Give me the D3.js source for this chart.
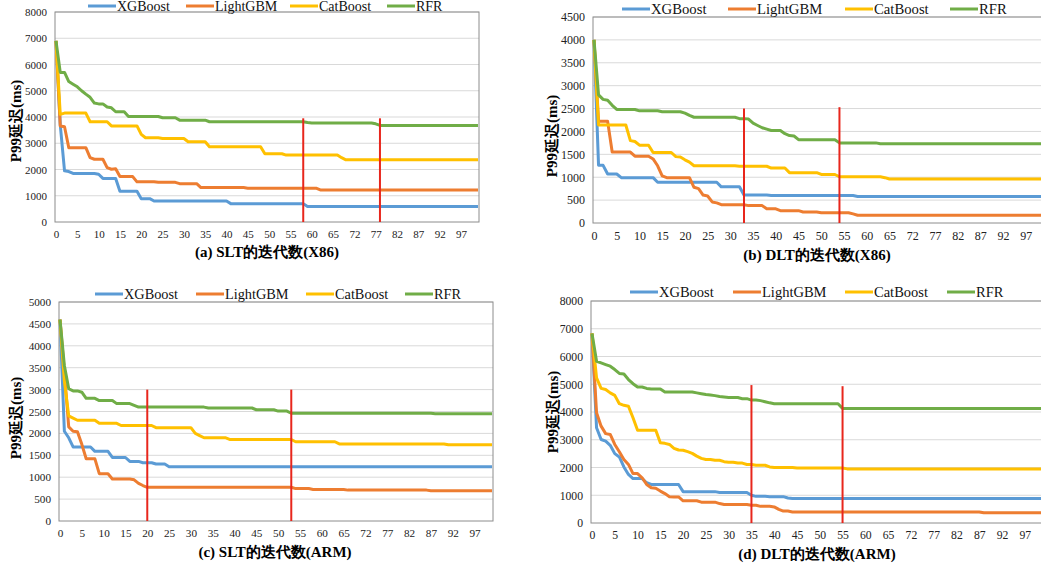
<!DOCTYPE html>
<html>
<head>
<meta charset="utf-8">
<script src="https://cdn.jsdelivr.net/npm/d3@7"></script>
<style>
  body { margin: 0; background: #fff; }
  svg text { font-family: "Liberation Serif", Tinos, "Times New Roman", "DejaVu Serif", serif; }
</style>
</head>
<body>
<svg id="chart" width="1041" height="566"></svg>
<script>
const seriesNames = ['XGBoost', 'LightGBM', 'CatBoost', 'RFR'];
const seriesColors = ['#5B9BD5', '#ED7D31', '#FFC000', '#70AD47'];

// iteration labels on the category axis (two iterations are missing after 69)
const iterations = d3.range(0, 70).concat(d3.range(72, 102));
const xTickIndex = [0, 5, 10, 15, 20, 25, 30, 35, 40, 45, 50, 55, 60, 65, 70, 75, 80, 85, 90, 95];

// (a) SLT, X86
const sltX86XGBoost = [
  6900,3700,1950,1920,1850,1850,1850,1850,1850,1850,
  1820,1660,1660,1660,1660,1170,1170,1170,1170,1170,
  890,890,890,800,800,800,800,800,800,800,
  800,800,800,800,800,800,800,800,800,800,
  800,700,700,700,700,700,700,700,700,700,
  700,700,700,700,700,700,700,700,700,590,
  590,590,590,590,590,590,590,590,590,590,
  590,590,590,590,590,590,590,590,590,590,
  590,590,590,590,590,590,590,590,590,590,
  590,590,590,590,590,590,590,590,590,590];
const sltX86LightGBM = [
  6900,3660,3630,2830,2830,2830,2830,2830,2450,2390,
  2390,2390,2070,2010,2030,1730,1730,1730,1730,1530,
  1530,1530,1530,1530,1510,1510,1510,1510,1510,1460,
  1460,1460,1460,1460,1310,1310,1310,1310,1310,1310,
  1310,1310,1310,1310,1310,1290,1290,1290,1290,1290,
  1290,1290,1290,1290,1290,1290,1290,1290,1290,1290,
  1290,1290,1220,1220,1220,1220,1220,1220,1220,1220,
  1220,1220,1220,1220,1220,1220,1220,1220,1220,1220,
  1220,1220,1220,1220,1220,1220,1220,1220,1220,1220,
  1220,1220,1220,1220,1220,1220,1220,1220,1220,1220];
const sltX86CatBoost = [
  6900,4100,4150,4150,4150,4150,4150,4150,3820,3820,
  3820,3820,3820,3660,3660,3660,3660,3660,3660,3660,
  3340,3210,3210,3210,3210,3180,3180,3180,3180,3180,
  3180,3060,3060,3060,3060,3060,2870,2870,2870,2870,
  2870,2870,2870,2870,2870,2870,2870,2870,2870,2600,
  2600,2600,2600,2600,2550,2550,2550,2550,2550,2550,
  2550,2550,2550,2550,2550,2550,2550,2450,2370,2370,
  2370,2370,2370,2370,2370,2370,2370,2370,2370,2370,
  2370,2370,2370,2370,2370,2370,2370,2370,2370,2370,
  2370,2370,2370,2370,2370,2370,2370,2370,2370,2370];
const sltX86RFR = [
  6900,5700,5700,5350,5250,5150,5000,4870,4750,4530,
  4500,4500,4380,4350,4200,4200,4200,4020,4020,4020,
  4020,4020,4020,4020,4020,3970,3970,3970,3970,3880,
  3880,3880,3880,3880,3880,3880,3820,3820,3820,3820,
  3820,3820,3820,3820,3820,3820,3820,3820,3820,3820,
  3820,3820,3820,3820,3820,3820,3820,3820,3820,3790,
  3770,3770,3770,3770,3770,3770,3770,3770,3770,3770,
  3770,3770,3770,3770,3770,3740,3680,3680,3680,3680,
  3680,3680,3680,3680,3680,3680,3680,3680,3680,3680,
  3680,3680,3680,3680,3680,3680,3680,3680,3680,3680];

// (b) DLT, X86
const dltX86XGBoost = [
  4000,1260,1260,1070,1070,1070,990,990,990,990,
  990,990,990,990,890,890,890,890,890,890,
  890,890,890,890,890,890,890,890,790,790,
  790,790,790,610,610,610,610,610,610,600,
  600,600,600,600,600,600,600,600,600,600,
  600,600,600,600,600,600,600,600,580,580,
  580,580,580,580,580,580,580,580,580,580,
  580,580,580,580,580,580,580,580,580,580,
  580,580,580,580,580,580,580,580,580,580,
  580,580,580,580,580,580,580,580,580,580];
const dltX86LightGBM = [
  4000,2220,2220,2220,1550,1550,1550,1550,1550,1460,
  1460,1460,1460,1400,1250,1030,990,990,990,990,
  990,990,780,750,610,590,460,440,400,400,
  400,400,400,400,380,380,380,380,310,310,
  310,270,270,270,270,270,240,240,240,240,
  225,225,225,225,225,225,225,200,170,170,
  170,170,170,170,170,170,170,170,170,170,
  170,170,170,170,170,170,170,170,170,170,
  170,170,170,170,170,170,170,170,170,170,
  170,170,170,170,170,170,170,170,170,170];
const dltX86CatBoost = [
  4000,2140,2140,2140,2140,2140,2140,2140,1800,1780,
  1700,1700,1700,1540,1540,1540,1540,1540,1450,1440,
  1380,1330,1250,1250,1250,1250,1250,1250,1250,1250,
  1250,1250,1240,1240,1240,1240,1240,1240,1240,1200,
  1200,1200,1200,1100,1100,1100,1100,1100,1100,1100,
  1060,1060,1060,1060,1010,1010,1010,1010,1010,1010,
  1010,1010,1010,1010,990,960,960,960,960,960,
  960,960,960,960,960,960,960,960,960,960,
  960,960,960,960,960,960,960,960,960,960,
  960,960,960,960,960,960,960,960,960,960];
const dltX86RFR = [
  4000,2800,2700,2680,2570,2480,2480,2480,2480,2480,
  2450,2450,2450,2450,2450,2430,2430,2430,2430,2430,
  2400,2350,2310,2310,2310,2310,2310,2310,2310,2310,
  2310,2310,2280,2280,2270,2180,2130,2080,2050,2020,
  2020,2020,1950,1910,1900,1820,1820,1820,1820,1820,
  1820,1820,1820,1820,1750,1750,1750,1750,1750,1750,
  1750,1750,1750,1730,1730,1730,1730,1730,1730,1730,
  1730,1730,1730,1730,1730,1730,1730,1730,1730,1730,
  1730,1730,1730,1730,1730,1730,1730,1730,1730,1730,
  1730,1730,1730,1730,1730,1730,1730,1730,1730,1730];

// (c) SLT, ARM
const sltArmXGBoost = [
  4600,2050,1900,1690,1690,1690,1690,1690,1590,1590,
  1590,1590,1450,1450,1450,1450,1360,1360,1360,1330,
  1330,1330,1300,1300,1300,1240,1240,1240,1240,1240,
  1240,1240,1240,1240,1240,1240,1240,1240,1240,1240,
  1240,1240,1240,1240,1240,1240,1240,1240,1240,1240,
  1240,1240,1240,1240,1240,1240,1240,1240,1240,1240,
  1240,1240,1240,1240,1240,1240,1240,1240,1240,1240,
  1240,1240,1240,1240,1240,1240,1240,1240,1240,1240,
  1240,1240,1240,1240,1240,1240,1240,1240,1240,1240,
  1240,1240,1240,1240,1240,1240,1240,1240,1240,1240];
const sltArmLightGBM = [
  4600,3400,2150,2050,2040,1750,1420,1420,1420,1080,
  1080,1080,960,960,960,960,960,940,860,810,
  770,770,770,770,770,770,770,770,770,770,
  770,770,770,770,770,770,770,770,770,770,
  770,770,770,770,770,770,770,770,770,770,
  770,770,770,770,740,740,740,740,720,720,
  720,720,720,720,720,720,705,705,705,705,
  705,705,705,705,705,705,705,705,705,705,
  705,705,705,705,705,690,690,690,690,690,
  690,690,690,690,690,690,690,690,690,690];
const sltArmCatBoost = [
  4600,3200,2400,2350,2300,2300,2300,2300,2300,2230,
  2230,2230,2230,2230,2180,2180,2180,2180,2180,2180,
  2180,2180,2130,2130,2130,2130,2130,2130,2130,2130,
  2130,2000,1950,1900,1900,1900,1900,1900,1900,1860,
  1860,1860,1860,1860,1860,1860,1860,1860,1860,1860,
  1860,1860,1860,1860,1810,1810,1810,1810,1810,1810,
  1810,1810,1810,1810,1760,1760,1760,1760,1760,1760,
  1760,1760,1760,1760,1760,1760,1760,1760,1760,1760,
  1760,1760,1760,1760,1760,1760,1760,1760,1760,1740,
  1740,1740,1740,1740,1740,1740,1740,1740,1740,1740];
const sltArmRFR = [
  4600,3550,3020,2970,2970,2940,2800,2800,2800,2750,
  2750,2750,2750,2680,2680,2680,2680,2640,2600,2600,
  2600,2600,2600,2600,2600,2600,2600,2600,2600,2600,
  2600,2600,2600,2600,2580,2580,2580,2580,2580,2580,
  2580,2580,2580,2580,2580,2540,2540,2540,2540,2540,
  2510,2510,2510,2460,2460,2460,2460,2460,2460,2460,
  2460,2460,2460,2460,2460,2460,2460,2460,2460,2460,
  2460,2460,2460,2460,2460,2460,2460,2460,2460,2460,
  2460,2460,2460,2460,2460,2460,2450,2450,2450,2450,
  2450,2450,2450,2450,2450,2450,2450,2450,2450,2450];

// (d) DLT, ARM
const dltArmXGBoost = [
  6830,3430,3010,2950,2800,2500,2380,2020,1750,1600,
  1600,1600,1450,1390,1390,1390,1390,1390,1390,1390,
  1130,1130,1130,1130,1130,1130,1130,1130,1100,1100,
  1100,1100,1100,1100,1100,1000,960,960,960,950,
  950,950,950,900,880,880,880,880,880,880,
  880,880,880,880,880,880,880,880,880,880,
  880,880,880,880,880,880,880,880,880,880,
  880,880,880,880,880,880,880,880,880,880,
  880,880,880,880,880,880,880,880,880,880,
  880,880,880,880,880,880,880,880,880,880];
const dltArmLightGBM = [
  6830,3970,3490,3220,3190,2830,2570,2290,2110,1780,
  1780,1630,1390,1270,1250,1150,1060,950,940,940,
  800,800,800,800,750,750,750,750,700,670,
  670,670,670,670,670,640,640,600,600,600,
  580,490,430,430,400,400,400,400,400,400,
  400,400,400,400,400,400,400,400,400,400,
  400,400,400,400,400,400,400,400,400,400,
  400,400,400,400,400,400,400,400,400,400,
  400,400,400,400,400,400,370,370,370,370,
  370,370,370,370,370,370,370,370,370,370];
const dltArmCatBoost = [
  6830,5230,4850,4810,4690,4600,4300,4240,4210,3790,
  3340,3340,3340,3340,3340,2890,2870,2830,2690,2630,
  2620,2570,2510,2410,2330,2290,2290,2260,2260,2210,
  2190,2190,2160,2160,2110,2110,2080,2080,2080,2020,
  2000,2000,2000,2000,2000,1980,1980,1980,1980,1980,
  1980,1980,1980,1980,1980,1980,1950,1950,1950,1950,
  1950,1950,1950,1950,1950,1950,1950,1950,1950,1950,
  1950,1950,1950,1950,1950,1950,1950,1950,1950,1950,
  1950,1950,1950,1950,1950,1950,1950,1950,1950,1950,
  1950,1950,1950,1950,1950,1950,1950,1950,1950,1950];
const dltArmRFR = [
  6830,5830,5770,5710,5650,5530,5390,5370,5170,5020,
  4900,4900,4850,4830,4830,4830,4720,4720,4720,4720,
  4720,4720,4720,4690,4660,4630,4610,4590,4560,4540,
  4520,4520,4520,4480,4480,4430,4430,4410,4370,4330,
  4300,4300,4300,4300,4300,4300,4300,4300,4300,4300,
  4300,4300,4300,4300,4300,4130,4130,4130,4130,4130,
  4130,4130,4130,4130,4130,4130,4130,4130,4130,4130,
  4130,4130,4130,4130,4130,4130,4130,4130,4130,4130,
  4130,4130,4130,4130,4130,4130,4130,4130,4130,4130,
  4130,4130,4130,4130,4130,4130,4130,4130,4130,4130];

// red marker lines: iteration index and top value
const sltX86Markers = [58, 76], sltX86MarkerTops = [3950, 3950];
const dltX86Markers = [33, 54], dltX86MarkerTops = [2500, 2530];
const sltArmMarkers = [20, 53], sltArmMarkerTops = [3000, 3000];
const dltArmMarkers = [35, 55], dltArmMarkerTops = [4970, 4930];

const panels = [
  { title: '(a) SLT的迭代数(X86)', series: [sltX86XGBoost, sltX86LightGBM, sltX86CatBoost, sltX86RFR],
    markers: sltX86Markers, markerTops: sltX86MarkerTops, yMax: 8000, yStep: 1000,
    box: { l: 55, r: 479, t: 12, b: 222 }, tickFont: 11, titleY: 257, titleX: 267,
    yTitle: { x: 16, y: 121 }, legendY: 6, legendX: [88, 186, 290, 387], legendFont: 14 },
  { title: '(b) DLT的迭代数(X86)', series: [dltX86XGBoost, dltX86LightGBM, dltX86CatBoost, dltX86RFR],
    markers: dltX86Markers, markerTops: dltX86MarkerTops, yMax: 4500, yStep: 500,
    box: { l: 593, r: 1045, t: 17, b: 223 }, tickFont: 12, titleY: 260, titleX: 817,
    yTitle: { x: 552, y: 136 }, legendY: 9, legendX: [622, 728, 845, 950], legendFont: 14.7 },
  { title: '(c) SLT的迭代数(ARM)', series: [sltArmXGBoost, sltArmLightGBM, sltArmCatBoost, sltArmRFR],
    markers: sltArmMarkers, markerTops: sltArmMarkerTops, yMax: 5000, yStep: 500,
    box: { l: 59, r: 493, t: 302, b: 521 }, tickFont: 11.2, titleY: 557, titleX: 275,
    yTitle: { x: 16, y: 418 }, legendY: 294, legendX: [95, 196, 306, 405], legendFont: 14.3 },
  { title: '(d) DLT的迭代数(ARM)', series: [dltArmXGBoost, dltArmLightGBM, dltArmCatBoost, dltArmRFR],
    markers: dltArmMarkers, markerTops: dltArmMarkerTops, yMax: 8000, yStep: 1000,
    box: { l: 591, r: 1044, t: 301, b: 523 }, tickFont: 11.7, titleY: 559, titleX: 817,
    yTitle: { x: 553, y: 412 }, legendY: 292, legendX: [630, 733, 845, 947], legendFont: 14.5 }
];

const svg = d3.select('#chart');

function drawPanel(p) {
  const g = svg.append('g');
  const b = p.box;

  const x = d3.scalePoint()
      .domain(d3.range(iterations.length))
      .range([b.l + 1, b.r - 1]);
  const y = d3.scaleLinear().domain([0, p.yMax]).range([b.b, b.t]);
  const yTicks = d3.range(0, p.yMax + 1, p.yStep);

  // horizontal grid
  g.selectAll('line.grid')
      .data(yTicks.slice(1))
      .enter()
      .append('line')
      .attr('x1', b.l).attr('x2', b.r)
      .attr('y1', d => y(d)).attr('y2', d => y(d))
      .attr('stroke', '#d9d9d9')
      .attr('stroke-width', 1);

  // plot frame
  g.append('rect')
      .attr('x', b.l).attr('y', b.t)
      .attr('width', b.r - b.l).attr('height', b.b - b.t)
      .attr('fill', 'none')
      .attr('stroke', '#8c8c8c')
      .attr('stroke-width', 1);

  // axes (labels only)
  const yAxis = g.append('g')
      .attr('transform', `translate(${b.l},0)`)
      .call(d3.axisLeft(y).tickValues(yTicks).tickSize(0).tickPadding(8).tickFormat(d3.format('d')));
  const xAxis = g.append('g')
      .attr('transform', `translate(0,${b.b})`)
      .call(d3.axisBottom(x).tickValues(xTickIndex).tickSize(0).tickPadding(8)
        .tickFormat(i => iterations[i]));
  [yAxis, xAxis].forEach(a => {
    a.attr('font-family', null);
    a.select('.domain').remove();
    a.selectAll('text')
        .style('font-size', p.tickFont + 'px')
        .attr('fill', '#222');
  });

  // series lines
  const line = d3.line()
      .x((d, i) => x(i))
      .y(d => y(d));
  g.selectAll('path.series')
      .data(p.series)
      .enter()
      .append('path')
      .attr('d', line)
      .attr('fill', 'none')
      .attr('stroke', (d, i) => seriesColors[i])
      .attr('stroke-width', 3)
      .attr('stroke-linejoin', 'round');

  // red marker lines
  g.selectAll('line.marker')
      .data(p.markers)
      .enter()
      .append('line')
      .attr('x1', d => x(d)).attr('x2', d => x(d))
      .attr('y1', b.b).attr('y2', (d, i) => y(p.markerTops[i]))
      .attr('stroke', '#e8261c')
      .attr('stroke-width', 2);

  // legend
  const leg = g.selectAll('g.legend')
      .data(seriesNames)
      .enter()
      .append('g')
      .attr('transform', (d, i) => `translate(${p.legendX[i]},${p.legendY})`);
  leg.append('line')
      .attr('x1', 0).attr('x2', 28)
      .attr('stroke', (d, i) => seriesColors[i])
      .attr('stroke-width', 3);
  leg.append('text')
      .attr('x', 29)
      .attr('dy', '0.35em')
      .style('font-size', p.legendFont + 'px')
      .attr('fill', '#111')
      .text(d => d);

  // axis titles
  g.append('text')
      .attr('transform', `translate(${p.yTitle.x},${p.yTitle.y}) rotate(-90)`)
      .attr('text-anchor', 'middle')
      .attr('dy', '0.35em')
      .style('font-size', '15px')
      .style('font-weight', 'bold')
      .text('P99延迟(ms)');
  g.append('text')
      .attr('x', p.titleX)
      .attr('y', p.titleY)
      .attr('text-anchor', 'middle')
      .style('font-size', '15px')
      .style('font-weight', 'bold')
      .text(p.title);
}

panels.forEach(drawPanel);
</script>
</body>
</html>
